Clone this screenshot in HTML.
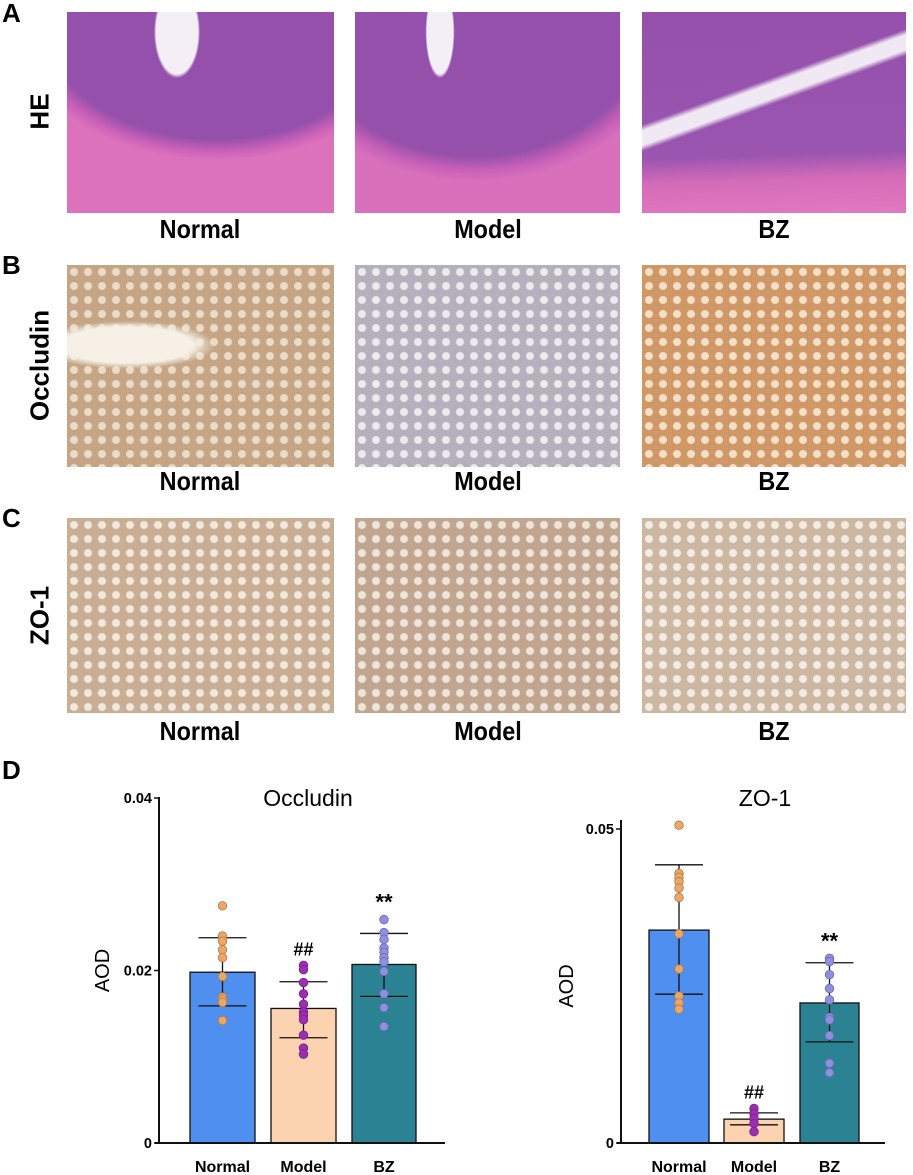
<!DOCTYPE html>
<html><head><meta charset="utf-8"><style>
body{margin:0;width:913px;height:1175px;background:#fff;position:relative;overflow:hidden;font-family:"Liberation Sans",sans-serif}
.img{position:absolute}
.lbl{position:absolute;font-weight:bold;font-size:26px;text-align:center;width:200px;transform:scaleX(0.9)}
.pl{position:absolute;font-weight:bold;font-size:26px}
.rl{position:absolute;font-weight:bold;font-size:26px;transform:rotate(-90deg);transform-origin:center;white-space:nowrap;text-align:center;width:200px}
</style></head><body>
<div class="pl" style="left:2px;top:-2px">A</div>
<div class="pl" style="left:2px;top:250px">B</div>
<div class="pl" style="left:2px;top:503px">C</div>
<div class="pl" style="left:2px;top:755px">D</div>
<div class="rl" style="left:-60px;top:96px">HE</div>
<div class="rl" style="left:-60px;top:350px">Occludin</div>
<div class="rl" style="left:-60px;top:600px">ZO-1</div>

<div class="img" style="left:67px;top:12px;width:267px;height:201px;background:radial-gradient(ellipse 35px 70px at 110px 20px,#f4eef6 60%,transparent 66%),radial-gradient(ellipse 220px 150px at 150px 10px,#9450aa 78%,#c860b8 86%,#dc72bc 92%),#dc72bc"></div>
<div class="img" style="left:355px;top:12px;width:265px;height:201px;background:radial-gradient(ellipse 22px 70px at 85px 20px,#f4eef6 60%,transparent 66%),radial-gradient(ellipse 220px 180px at 120px 0px,#9450aa 80%,#c860b8 88%,#d870bc 94%),#d870bc"></div>
<div class="img" style="left:642px;top:12px;width:264px;height:201px;background:linear-gradient(160deg,transparent 38%,#f0e8f2 40%,#f0e8f2 45%,transparent 47%),linear-gradient(178deg,#9450aa 0%,#9a55b0 70%,#d46bb8 82%,#e07ac0 100%)"></div>
<div class="lbl" style="left:100px;top:214px">Normal</div>
<div class="lbl" style="left:388px;top:214px">Model</div>
<div class="lbl" style="left:674px;top:214px">BZ</div>

<div class="img" style="left:67px;top:265px;width:267px;height:202px;background:radial-gradient(ellipse 110px 30px at 60px 80px,#f6f0e6 60%,transparent 80%),radial-gradient(circle,#ecdcc6 35%,transparent 45%) 0 0/14px 14px,#c4a686"></div>
<div class="img" style="left:355px;top:265px;width:265px;height:202px;background:radial-gradient(circle,#eeeaec 35%,transparent 45%) 0 0/14px 14px,#b4b0bc"></div>
<div class="img" style="left:642px;top:265px;width:264px;height:202px;background:radial-gradient(circle,#f4e0c8 35%,transparent 45%) 0 0/14px 14px,#cf9866"></div>
<div class="lbl" style="left:100px;top:466px">Normal</div>
<div class="lbl" style="left:388px;top:466px">Model</div>
<div class="lbl" style="left:674px;top:466px">BZ</div>

<div class="img" style="left:67px;top:518px;width:267px;height:195px;background:radial-gradient(circle,#f2e8dc 35%,transparent 45%) 0 0/14px 14px,#c8ae94"></div>
<div class="img" style="left:355px;top:518px;width:265px;height:195px;background:radial-gradient(circle,#efe4d8 35%,transparent 45%) 0 0/14px 14px,#c0a690"></div>
<div class="img" style="left:642px;top:518px;width:264px;height:195px;background:radial-gradient(circle,#f4ece2 35%,transparent 45%) 0 0/14px 14px,#ccb8a2"></div>
<div class="lbl" style="left:100px;top:716px">Normal</div>
<div class="lbl" style="left:388px;top:716px">Model</div>
<div class="lbl" style="left:674px;top:716px">BZ</div>

<svg id="chart" width="913" height="1175" style="position:absolute;left:0;top:0"></svg>
<script>
const categories=["Normal","Model","BZ"];
const occMeans=[0.0198,0.0156,0.0207];
const occUpper=[0.0238,0.0187,0.0243];
const occLower=[0.0159,0.0122,0.0170];
const occPtsNormal=[0.0275,0.024,0.0234,0.0224,0.0215,0.0193,0.0169,0.0166,0.0163,0.0142];
const occPtsModel=[0.0206,0.0201,0.0186,0.0173,0.0161,0.0152,0.0148,0.0143,0.0125,0.0110,0.0103];
const occPtsBZ=[0.0259,0.0244,0.0236,0.0226,0.0221,0.0215,0.021,0.0199,0.0173,0.0157,0.0135];
const occTicks=[0,0.02,0.04];
const occTickLabels=["0","0.02","0.04"];
const zoMeans=[0.0339,0.0038,0.0223];
const zoUpper=[0.0443,0.0048,0.0287];
const zoLower=[0.0237,0.0029,0.0161];
const zoPtsNormal=[0.0506,0.0429,0.0423,0.0416,0.0406,0.0391,0.0333,0.0277,0.0234,0.0223,0.0213];
const zoPtsModel=[0.0055,0.0047,0.0039,0.0031,0.0018];
const zoPtsBZ=[0.0294,0.0289,0.0268,0.0246,0.0228,0.02,0.0196,0.0171,0.0127,0.0112];
const zoTicks=[0,0.05];
const zoTickLabels=["0","0.05"];
const sigLabels=["","##","**"];

const svg=document.getElementById('chart');
const NS='http://www.w3.org/2000/svg';
function mk(tag,attrs,name,parent){const e=document.createElementNS(NS,tag);for(const k in attrs)e.setAttribute(k,attrs[k]);


(parent||svg).appendChild(e);return e;}
const barFill=["#4f8ff0","#fbd3b0","#2b8293"];
const ptFill=["#e9a868","#9a2fb0","#8f8fdc"];
const ptStroke=["#b87a40","#7a1f90","#6a6ab8"];

function drawChart(o){
  const y=v=>o.y0-(v-0)/o.vmax*(o.y0-o.ytop);
  const g=mk('g',{},o.name);
  const t=mk('text',{x:o.titleX,y:o.titleY,'font-size':23,'text-anchor':'middle','font-family':'Liberation Sans'},o.name+'-title',g);t.textContent=o.title;
  const a=mk('text',{x:0,y:0,'font-size':20,'text-anchor':'middle',transform:`translate(${o.x0-o.aodOff},${(o.y0+o.ytop)/2}) rotate(-90)`},o.name+'-y-axis-title',g);a.textContent='AOD';
  o.means.forEach((m,i)=>{
    const [l,r]=o.bars[i];
    mk('rect',{x:l,y:y(m),width:r-l,height:o.y0-y(m),fill:barFill[i],stroke:'#111','stroke-width':1.3},o.name+'-bar-'+categories[i].toLowerCase(),g);
    const c=(l+r)/2;
    mk('line',{x1:c,x2:c,y1:y(o.upper[i]),y2:y(o.lower[i]),stroke:'#111','stroke-width':1.3},o.name+'-error-bar',g);
    mk('line',{x1:c-24,x2:c+24,y1:y(o.upper[i]),y2:y(o.upper[i]),stroke:'#111','stroke-width':1.3},o.name+'-error-cap-upper',g);
    mk('line',{x1:c-24,x2:c+24,y1:y(o.lower[i]),y2:y(o.lower[i]),stroke:'#111','stroke-width':1.3},o.name+'-error-cap-lower',g);
    o.pts[i].forEach(v=>mk('circle',{cx:c,cy:y(v),r:4.3,fill:ptFill[i],stroke:ptStroke[i],'stroke-width':0.8},o.name+'-point-'+categories[i].toLowerCase(),g));
    const xl=mk('text',{x:c,y:o.y0+29,'font-size':16,'font-weight':'bold','text-anchor':'middle'},o.name+'-x-label-'+categories[i].toLowerCase(),g);xl.textContent=categories[i];
    if(sigLabels[i]){const top=Math.max(...o.pts[i],o.upper[i]);
      const s=mk('text',{x:c,y:y(top)-10,'font-size':sigLabels[i]=='**'?22:18,'font-weight':'bold','text-anchor':'middle'},o.name+'-significance-'+categories[i].toLowerCase(),g);s.textContent=sigLabels[i];}
  });
  mk('line',{x1:o.x0,x2:o.x0,y1:o.axTop,y2:o.y0+1,stroke:'#111','stroke-width':2},o.name+'-y-axis',g);
  mk('line',{x1:o.x0-4,x2:o.xend,y1:o.y0,y2:o.y0,stroke:'#111','stroke-width':2},o.name+'-x-axis',g);
  o.ticks.forEach((v,i)=>{
    mk('line',{x1:o.x0-5,x2:o.x0,y1:y(v),y2:y(v),stroke:'#111','stroke-width':1.5},o.name+'-y-tick',g);
    const tl=mk('text',{x:o.x0-7,y:y(v)+5,'font-size':14.5,'font-weight':'bold','text-anchor':'end'},o.name+'-y-tick-label',g);tl.textContent=o.tickLabels[i];
  });
}
drawChart({name:'occludin-chart',title:'Occludin',titleX:308,titleY:806,x0:159,xend:445,y0:1143,ytop:798,vmax:0.04,axTop:797,aodOff:50,
 bars:[[190,255],[271,336],[352,416]],means:occMeans,upper:occUpper,lower:occLower,pts:[occPtsNormal,occPtsModel,occPtsBZ],ticks:occTicks,tickLabels:occTickLabels});
drawChart({name:'zo1-chart',title:'ZO-1',titleX:765,titleY:806,x0:621,xend:885,y0:1143,ytop:829,vmax:0.05,axTop:820,aodOff:48,
 bars:[[649,709],[724,784],[800,859]],means:zoMeans,upper:zoUpper,lower:zoLower,pts:[zoPtsNormal,zoPtsModel,zoPtsBZ],ticks:zoTicks,tickLabels:zoTickLabels});
</script>
</body></html>
